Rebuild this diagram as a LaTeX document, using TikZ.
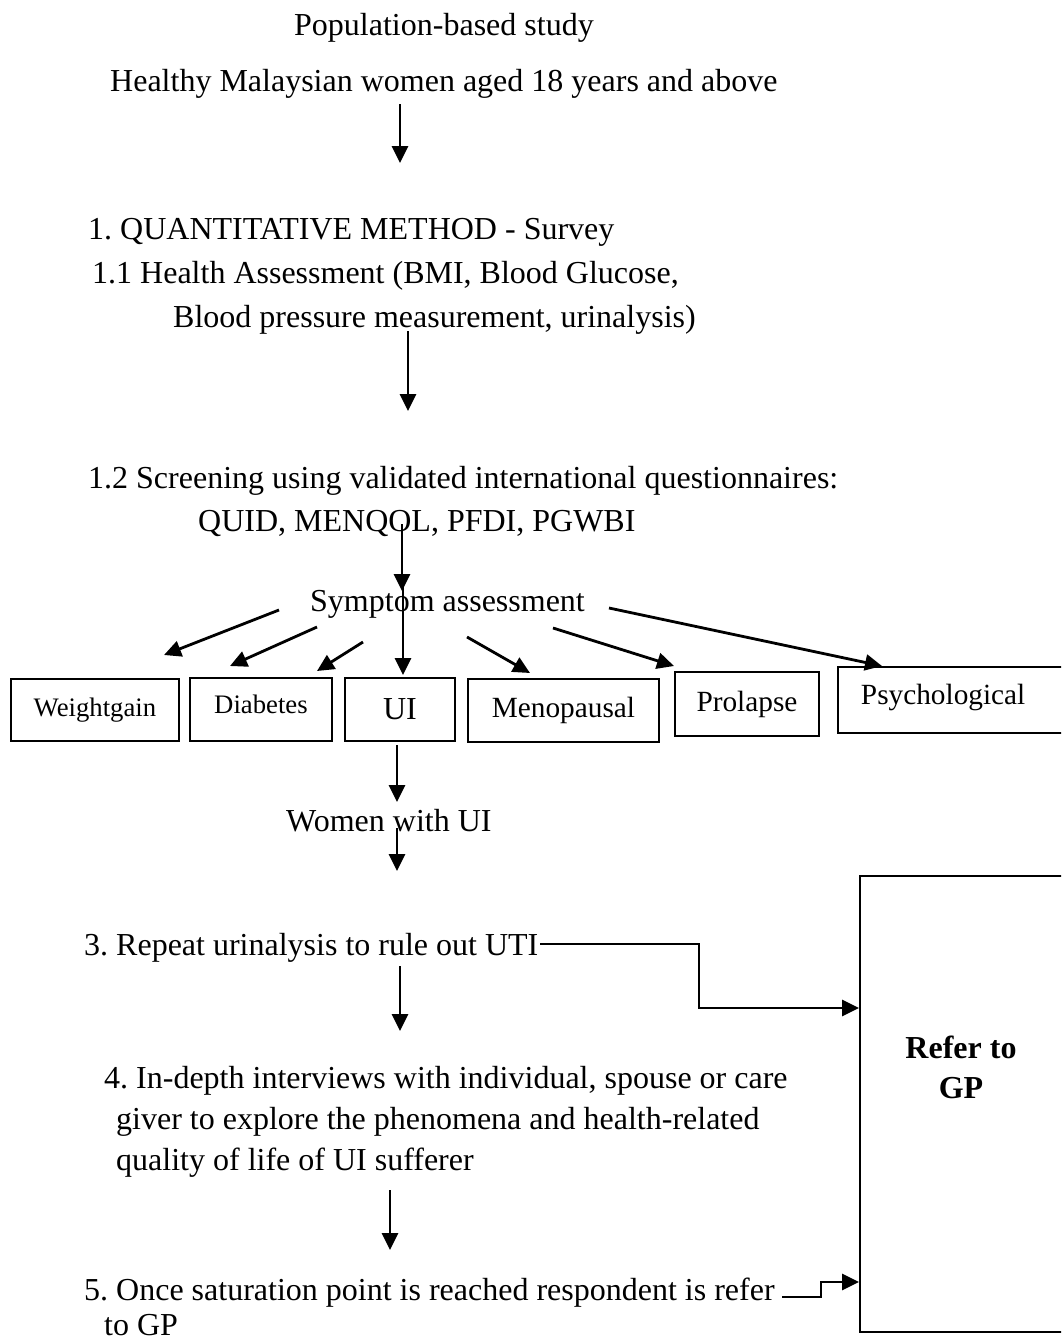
\documentclass[tikz,border=0pt]{standalone}
\usepackage{fontspec}
\setmainfont{Liberation Serif}
\usetikzlibrary{arrows.meta}
\begin{document}
\frenchspacing
\begin{tikzpicture}[x=1pt,y=-1pt,
  txt/.style={anchor=base west, inner sep=0pt, font=\fontsize{32}{40}\selectfont},
  box/.style={draw, line width=1.9pt, anchor=north west, inner sep=0pt, align=center},
  small/.style={font=\fontsize{26.7}{30}\selectfont},
  mid/.style={font=\fontsize{29.3}{34}\selectfont},
  big/.style={font=\fontsize{32}{40}\selectfont},
  arr/.style={line width=2.8pt, -{Triangle[length=17pt,width=16pt]}},
]
\useasboundingbox (0,0) rectangle (1061,1341);
\clip (0,0) rectangle (1061,1341);

% ---- text lines ----
\node[txt] (pop)     at (294,35)   {Population-based study};
\node[txt] (healthy) at (110,91)   {Healthy Malaysian women aged 18 years and above};
\node[txt] (quant)   at (88,239)   {1. QUANTITATIVE METHOD - Survey};
\node[txt] (health)  at (92,283)   {1.1 Health Assessment (BMI, Blood Glucose,};
\node[txt] (bp)      at (173,327)  {Blood pressure measurement, urinalysis)};
\node[txt] (screen)  at (88,488)   {1.2 Screening using validated international questionnaires:};
\node[txt] (quid)    at (198,531)  {QUID, MENQOL, PFDI, PGWBI};
\node[txt] (symp)    at (310,611)  {Symptom assessment};
\node[txt] (women)   at (286,831)  {Women with UI};
\node[txt] (rep)     at (84,955)   {3. Repeat urinalysis to rule out UTI};
\node[txt] (int1)    at (104,1088) {4. In-depth interviews with individual, spouse or care};
\node[txt] (int2)    at (116,1129) {giver to explore the phenomena and health-related};
\node[txt] (int3)    at (116,1170) {quality of life of UI sufferer};
\node[txt] (sat1)    at (84,1300)  {5. Once saturation point is reached respondent is refer};
\node[txt] (sat2)    at (104,1335) {to GP};

% ---- symptom boxes ----
\node[box, small, minimum width=168pt, minimum height=62pt] (wg) at (10,678)  {Weightgain};
\node[box, small, minimum width=142pt, minimum height=63pt, text depth=10pt] (db) at (189,677) {Diabetes};
\node[box, big,   minimum width=110pt, minimum height=63pt] (ui) at (344,677) {UI};
\node[box, mid,   minimum width=191pt, minimum height=63pt] (mp) at (467,678) {Menopausal};
\node[box, mid,   minimum width=144pt, minimum height=64pt] (pr) at (674,671) {Prolapse};
\node[box, mid,   minimum height=66pt, text width=240pt, align=left, inner xsep=23pt, text depth=12pt] (ps) at (837,666) {Psychological};

% ---- referral box ----
\node[box, minimum width=260pt, minimum height=456pt] (refer) at (859,875) {};
\node[font=\fontsize{32}{40}\selectfont\bfseries, align=center, inner sep=0pt] (refertxt) at (961,1067) {Refer to\\GP};

% ---- arrow end points ----
\coordinate (a1s) at (400,104);  \coordinate (a1e) at (400,163);
\coordinate (a2s) at (408,331);  \coordinate (a2e) at (408,411);
\coordinate (a3s) at (402,524);  \coordinate (a3e) at (402,591);
\coordinate (s1s) at (279,610);  \coordinate (s1e) at (164,655);
\coordinate (s2s) at (317,627);  \coordinate (s2e) at (230,666);
\coordinate (s3s) at (363,642);  \coordinate (s3e) at (317,671);
\coordinate (s4s) at (403,584);  \coordinate (s4e) at (403,675);
\coordinate (s5s) at (467,637);  \coordinate (s5e) at (530,673);
\coordinate (s6s) at (553,628);  \coordinate (s6e) at (674,666);
\coordinate (s7s) at (609,608);  \coordinate (s7e) at (882,666);
\coordinate (u1s) at (397,745);  \coordinate (u1e) at (397,802);
\coordinate (w1s) at (397,828);  \coordinate (w1e) at (397,871);
\coordinate (r1s) at (400,966);  \coordinate (r1e) at (400,1031);
\coordinate (i1s) at (390,1190); \coordinate (i1e) at (390,1250);
\coordinate (utiout)  at (540,944);  \coordinate (utibend) at (699,944);
\coordinate (utiin)   at (0,1008);
\coordinate (satout)  at (782,1297); \coordinate (satbend) at (821,1297);
\coordinate (satin)   at (0,1282);

% ---- main flow ----
\draw[arr] (a1s) -- (a1e);
\draw[arr] (a2s) -- (a2e);
\draw[arr] (a3s) -- (a3e);
\foreach \k in {1,...,7} { \draw[arr] (s\k s) -- (s\k e); }
\draw[arr] (u1s) -- (u1e);
\draw[arr] (w1s) -- (w1e);
\draw[arr] (r1s) -- (r1e);
\draw[arr] (i1s) -- (i1e);

% ---- referral connectors ----
\draw[arr] (utiout) -- (utibend) |- (refer.west |- utiin);
\draw[arr] (satout) -- (satbend) |- (refer.west |- satin);
\end{tikzpicture}
\end{document}
